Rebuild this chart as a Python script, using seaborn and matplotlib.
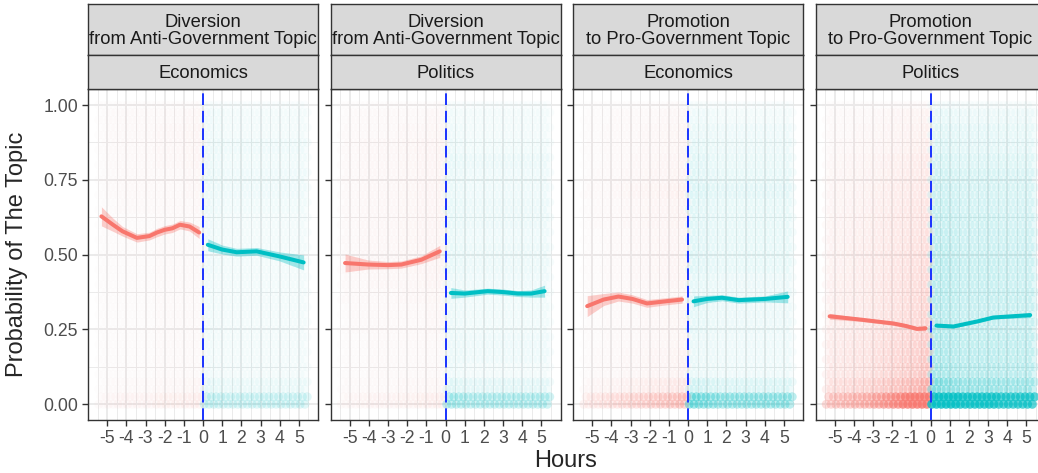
import numpy as np
import matplotlib
matplotlib.use("Agg")
import matplotlib.pyplot as plt
import seaborn as sns

sns.set_theme(style="white")
plt.rcParams['font.family'] = ['Liberation Sans', 'DejaVu Sans']

RED = '#F8766D'
TEAL = '#00BFC4'

# facet labels
strip_top = ['Diversion\nfrom Anti-Government Topic', 'Diversion\nfrom Anti-Government Topic',
             'Promotion\nto Pro-Government Topic', 'Promotion\nto Pro-Government Topic']
strip_bottom = ['Economics', 'Politics', 'Economics', 'Politics']
hour_ticks = [-5, -4, -3, -2, -1, 0, 1, 2, 3, 4, 5]
prob_ticks = [0.0, 0.25, 0.5, 0.75, 1.0]

# loess curves (before = red, after = teal)
red_x = [[-5.3, -4.7, -4.2, -3.45, -2.8, -2.4, -2.0, -1.6, -1.2, -0.7, -0.2],
         [-5.24, -4.03, -3.0, -2.3, -1.26, -0.3],
         [-5.26, -4.4, -3.63, -2.9, -2.14, -1.18, -0.31],
         [-5.26, -3.65, -1.93, -1.3, -0.7, -0.26]]
red_y = [[0.628, 0.600, 0.578, 0.556, 0.562, 0.574, 0.583, 0.588, 0.600, 0.594, 0.574],
         [0.472, 0.467, 0.465, 0.467, 0.483, 0.511],
         [0.328, 0.350, 0.360, 0.352, 0.337, 0.344, 0.350],
         [0.294, 0.283, 0.270, 0.262, 0.252, 0.254]]
red_se = [[0.032, 0.022, 0.016, 0.014, 0.013, 0.014, 0.014, 0.014, 0.014, 0.015, 0.020],
          [0.030, 0.015, 0.012, 0.012, 0.013, 0.020],
          [0.035, 0.020, 0.015, 0.014, 0.013, 0.012, 0.012],
          [0.010, 0.006, 0.006, 0.006, 0.006, 0.008]]
teal_x = [[0.25, 1.0, 1.76, 2.8, 4.0, 5.25],
          [0.28, 1.0, 2.2, 3.0, 3.77, 4.47, 5.17],
          [0.29, 1.0, 1.77, 2.64, 4.03, 5.2],
          [0.31, 1.2, 2.45, 3.28, 5.2]]
teal_y = [[0.533, 0.517, 0.508, 0.511, 0.494, 0.474],
          [0.372, 0.370, 0.378, 0.375, 0.370, 0.370, 0.378],
          [0.344, 0.352, 0.356, 0.348, 0.352, 0.359],
          [0.263, 0.260, 0.277, 0.290, 0.298]]
teal_se = [[0.020, 0.015, 0.013, 0.013, 0.015, 0.025],
           [0.018, 0.012, 0.010, 0.010, 0.010, 0.012, 0.020],
           [0.018, 0.012, 0.010, 0.010, 0.010, 0.020],
           [0.006, 0.005, 0.005, 0.005, 0.008]]

# point cloud density: opacity per 0.05 probability band (0 .. 1.0)
red_band = [[0.08, 0.04, 0.025, 0.025, 0.025, 0.025, 0.025, 0.025, 0.025, 0.025, 0.025,
             0.025, 0.025, 0.03, 0.035, 0.035, 0.04, 0.04, 0.04, 0.035, 0.02],
            [0.08, 0.04, 0.03, 0.03, 0.03, 0.035, 0.035, 0.04, 0.045, 0.05, 0.05,
             0.05, 0.05, 0.05, 0.05, 0.05, 0.05, 0.05, 0.04, 0.035, 0.02],
            [0.30, 0.10, 0.05, 0.05, 0.04, 0.04, 0.04, 0.04, 0.045, 0.045, 0.045,
             0.045, 0.05, 0.05, 0.06, 0.05, 0.045, 0.04, 0.04, 0.035, 0.02],
            [0.85, 0.40, 0.28, 0.26, 0.24, 0.22, 0.20, 0.19, 0.18, 0.17, 0.16,
             0.15, 0.14, 0.13, 0.12, 0.11, 0.10, 0.08, 0.07, 0.06, 0.03]]
teal_band = [[0.22, 0.08, 0.045, 0.045, 0.045, 0.045, 0.045, 0.045, 0.045, 0.05, 0.05,
              0.05, 0.05, 0.055, 0.06, 0.065, 0.055, 0.06, 0.05, 0.05, 0.03],
             [0.32, 0.10, 0.05, 0.06, 0.06, 0.055, 0.055, 0.055, 0.06, 0.07, 0.07,
              0.065, 0.07, 0.07, 0.065, 0.065, 0.07, 0.055, 0.05, 0.045, 0.03],
             [0.45, 0.13, 0.06, 0.06, 0.06, 0.07, 0.07, 0.07, 0.07, 0.085, 0.085,
              0.085, 0.085, 0.085, 0.10, 0.085, 0.08, 0.07, 0.06, 0.05, 0.03],
             [0.92, 0.38, 0.26, 0.24, 0.23, 0.22, 0.21, 0.21, 0.20, 0.20, 0.19,
              0.18, 0.17, 0.16, 0.15, 0.14, 0.12, 0.10, 0.09, 0.07, 0.04]]
# density multiplier per half-hour bin (red: -5.5..0, teal: 0..5.5)
red_xw = [[0.6, 0.8, 1.0, 1.0, 1.0, 1.0, 1.2, 1.2, 1.2, 1.3, 1.5],
          [0.7, 0.8, 0.9, 1.0, 1.0, 1.0, 1.1, 1.1, 1.2, 1.3, 1.4],
          [0.5, 0.6, 0.7, 0.8, 0.9, 1.0, 1.1, 1.2, 1.3, 1.4, 1.6],
          [0.5, 0.55, 0.6, 0.65, 0.7, 0.8, 0.9, 1.0, 1.1, 1.2, 1.4]]
teal_xw = [[1.2, 1.1, 1.0, 1.0, 1.0, 1.0, 1.0, 1.0, 1.0, 1.0, 1.0],
           [1.2, 1.1, 1.0, 1.0, 1.0, 1.0, 1.0, 1.0, 1.0, 1.0, 1.0],
           [1.3, 1.2, 1.1, 1.0, 1.0, 1.0, 1.0, 1.0, 1.0, 1.0, 1.0],
           [1.3, 1.2, 1.1, 1.0, 1.0, 1.0, 1.0, 0.95, 0.95, 0.95, 0.95]]

W, H = 1038, 473
fig = plt.figure(figsize=(W / 100, H / 100), dpi=100)


def px_axes(l, t, w, h):
    return fig.add_axes([l / W, 1 - (t + h) / H, w / W, h / H])


def draw_cloud(ax, band, xw, color, start):
    # each band/bin cell is filled with a staggered lattice of faint dots
    rgb = matplotlib.colors.to_rgb(color)
    xs, ys, cols = [], [], []
    for b, w in enumerate(xw):
        for k, o in enumerate(band):
            n_rows = 1 if k == len(band) - 1 else 2
            op = min(0.95, o * w)
            a = 1 - (1 - op) ** 0.5
            for r in range(n_rows):
                shift = 0.125 if r == 1 else 0.0
                for sub in range(2):
                    xs.append(start + b * 0.5 + 0.0625 + shift + sub * 0.25)
                    ys.append(k * 0.05 + r * 0.025)
                    cols.append((*rgb, a))
    ax.scatter(xs, ys, s=42, c=cols, linewidths=0, zorder=2)


def draw_smooth(ax, x, y, se, color):
    x = np.array(x)
    y = np.array(y)
    se = np.array(se)
    ax.fill_between(x, y - se, y + se, color=color, alpha=0.35, lw=0, zorder=3)
    sns.lineplot(x=x, y=y, ax=ax, color=color, lw=2.9, zorder=4)


for i in range(4):
    left = 88 + i * 242.5
    ax = px_axes(left, 89, 230, 331)
    ax.set_xlim(-6, 6)
    ax.set_ylim(-0.0525, 1.0535)
    ax.set_xticks(hour_ticks)
    ax.set_xticklabels([str(h) for h in hour_ticks])
    ax.set_xticks(np.arange(-5.5, 6, 1.0), minor=True)
    ax.set_yticks(prob_ticks)
    ax.set_yticks([0.125, 0.375, 0.625, 0.875], minor=True)
    if i == 0:
        ax.set_yticklabels(['0.00', '0.25', '0.50', '0.75', '1.00'])
    else:
        ax.set_yticklabels([])
    ax.grid(which='major', color='#EBEBEB', lw=1.4)
    ax.grid(which='minor', color='#EBEBEB', lw=0.7)
    ax.set_axisbelow(True)
    ax.tick_params(which='major', length=4.2, width=1.0, color='#333333',
                   labelsize=12.7, labelcolor='#4D4D4D', pad=3,
                   bottom=True, left=True)
    ax.tick_params(which='minor', length=0)
    for s in ax.spines.values():
        s.set_color('#333333')
        s.set_linewidth(1.0)

    draw_cloud(ax, red_band[i], red_xw[i], RED, -5.5)
    draw_cloud(ax, teal_band[i], teal_xw[i], TEAL, 0.0)
    draw_smooth(ax, red_x[i], red_y[i], red_se[i], RED)
    draw_smooth(ax, teal_x[i], teal_y[i], teal_se[i], TEAL)
    ax.axvline(0, color='#1a33ff', lw=1.4, ls=(0, (6, 3)), zorder=5)
    ax.set_xlabel('')
    ax.set_ylabel('')

    # facet strips
    for (t, h, label) in [(4, 51, strip_top[i]), (55, 34, strip_bottom[i])]:
        sax = px_axes(left, t, 230, h)
        sax.set_facecolor('#D9D9D9')
        sax.set_xticks([])
        sax.set_yticks([])
        for s in sax.spines.values():
            s.set_color('#333333')
            s.set_linewidth(1.0)
        sax.text(0.5, 0.47, label, ha='center', va='center', fontsize=13.2,
                 color='#1A1A1A', linespacing=0.95, transform=sax.transAxes,
                 clip_on=True)

fig.text(566 / W, 1 - 461 / H, 'Hours', ha='center', va='center', fontsize=17)
fig.text(17 / W, 1 - 254.5 / H, 'Probability of The Topic', ha='center',
         va='center', rotation=90, fontsize=17)

fig.savefig('out.png', dpi=100)
